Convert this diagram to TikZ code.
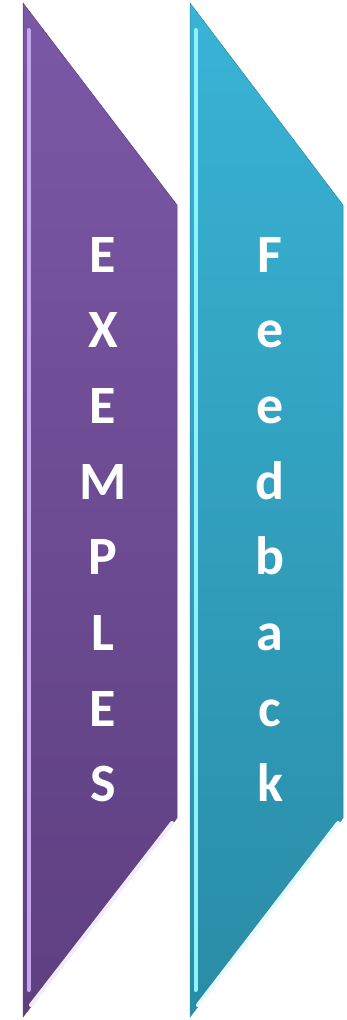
\documentclass[tikz,border=0pt]{standalone}
\usepackage{fontspec}
\setmainfont{Carlito}
\usetikzlibrary{positioning}
\definecolor{violettop}{HTML}{7B58A6}
\definecolor{violetbot}{HTML}{5E3F80}
\definecolor{violetlite}{HTML}{C4A6EC}
\definecolor{cyantop}{HTML}{39B3D6}
\definecolor{cyanbot}{HTML}{2A8CA6}
\definecolor{cyanlite}{HTML}{8EF2FF}

\begin{document}
\begin{tikzpicture}[x=1pt,y=-1pt,letter/.style={text=white,font=\fontsize{54}{54}\selectfont\bfseries,anchor=base,inner sep=0pt},edge/.style={line width=4pt,line cap=round}]
	    \useasboundingbox (0,0) rectangle (347,1020);
	    % the two bands
		    \shade[top color=violettop,bottom color=violetbot,draw=violetbot,line width=0.5pt] (23,3) -- (177,205) -- (177,818) -- (23,1017) -- cycle; %Exemples
		    \shade[top color=cyantop,bottom color=cyanbot,draw=cyanbot,line width=0.5pt] (190,3) -- (343,205) -- (343,818) -- (190,1017) -- cycle; %Feedback
	    % bevel highlights
		    \draw[edge,violetlite] (28.5,30) -- (28.5,990);
		    \draw[edge,white!80!violetlite] (172,823) -- (31,1005);
		    \draw[edge,cyanlite] (195.5,30) -- (195.5,990);
		    \draw[edge,white!80!cyanlite] (338,823) -- (198,1005);
	    % the letters
		    \foreach \ch [count=\i] in {E,X,E,M,P,L,E,S}
		        \node[letter] (e\i) at (103,{272+75.7*(\i-1)}) {\ch};
		    \foreach \ch [count=\i] in {F,e,e,d,b,a,c,k}
		        \node[letter] (f\i) at (270,{272+75.7*(\i-1)}) {\ch};
		\end{tikzpicture}
\end{document}
